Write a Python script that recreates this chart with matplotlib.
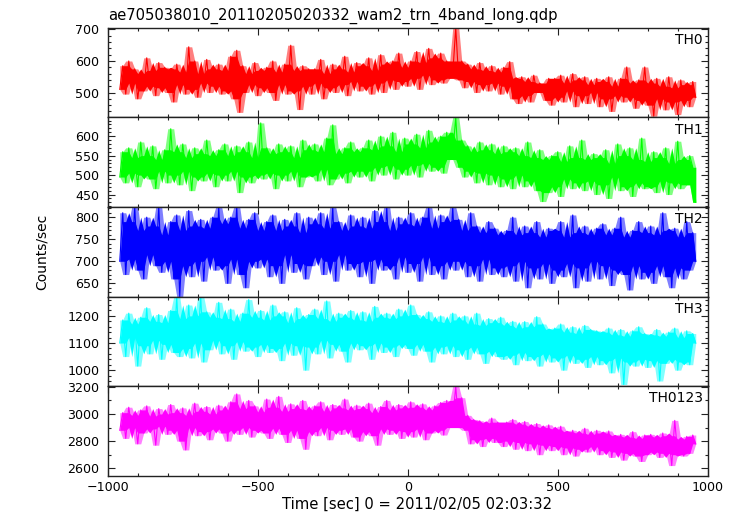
"""
WAM 4-band light curve (ae705038010, 2011/02/05 02:03:32), five stacked panels.
Output: out.png
"""
import matplotlib
matplotlib.use('Agg')
import matplotlib.pyplot as plt
from matplotlib.ticker import MultipleLocator
import numpy as np

plt.rcParams['font.family'] = ['DejaVu Sans']

# time bins [sec], 10 s apart
time = np.arange(-960, 961, 10)

# count rates (counts/sec), one row = 160 s
th0 = [
    510, 585, 495, 600, 530, 575, 480, 560, 505, 610, 520, 570, 490, 595, 515, 580,
    500, 575, 470, 590, 525, 565, 495, 645, 510, 600, 485, 560, 530, 605, 500, 575,
    520, 590, 495, 570, 505, 615, 480, 634, 437, 585, 500, 560, 525, 595, 490, 570,
    515, 580, 500, 600, 475, 565, 525, 590, 495, 650, 505, 570, 446, 585, 520, 575,
    495, 575, 530, 605, 480, 560, 515, 590, 500, 575, 525, 615, 490, 565, 535, 595,
    505, 585, 520, 610, 495, 570, 530, 620, 500, 590, 540, 600, 510, 625, 535, 580,
    520, 600, 545, 630, 510, 595, 555, 640, 525, 610, 540, 625, 530, 600, 545, 560,
    705, 540, 600, 515, 590, 535, 575, 500, 595, 525, 570, 505, 585, 530, 565, 495,
    580, 520, 598, 480, 545, 465, 550, 490, 535, 470, 555, 500, 530, 510, 475, 545,
    460, 545, 485, 555, 470, 530, 505, 560, 455, 540, 490, 550, 465, 525, 500, 545,
    455, 535, 480, 550, 440, 520, 490, 545, 470, 581, 485, 530, 450, 540, 475, 581,
    460, 530, 425, 545, 480, 520, 445, 550, 470, 515, 430, 540, 475, 525, 455, 535,
    485,
]
th1 = [
    495, 560, 480, 570, 505, 545, 470, 585, 500, 550, 490, 575, 465, 540, 510, 565,
    480, 619, 500, 560, 475, 580, 510, 545, 460, 570, 495, 555, 485, 590, 505, 550,
    470, 565, 500, 580, 485, 550, 510, 575, 455, 560, 495, 585, 480, 545, 500, 634,
    490, 570, 505, 555, 465, 580, 500, 560, 485, 575, 510, 545, 470, 590, 495, 565,
    500, 580, 485, 560, 515, 595, 475, 629, 490, 555, 505, 570, 480, 585, 510, 560,
    495, 570, 510, 590, 485, 565, 520, 600, 500, 575, 525, 610, 490, 560, 515, 595,
    500, 580, 525, 605, 495, 570, 530, 615, 510, 585, 520, 600, 505, 610, 540, 555,
    648, 520, 590, 495, 575, 510, 560, 480, 585, 505, 565, 475, 580, 500, 555, 470,
    575, 490, 560, 465, 570, 500, 550, 470, 585, 485, 545, 460, 565, 432, 540, 455,
    550, 470, 560, 445, 535, 490, 575, 465, 545, 480, 590, 460, 540, 485, 555, 450,
    545, 475, 565, 440, 530, 495, 580, 460, 550, 470, 570, 445, 540, 480, 595, 465,
    535, 470, 560, 455, 545, 485, 570, 450, 530, 480, 587, 465, 540, 475, 550, 520,
    430,
]
th2 = [
    700, 810, 670, 790, 705, 823, 680, 770, 660, 800, 715, 780, 690, 823, 675, 760,
    700, 790, 660, 805, 620, 770, 690, 815, 665, 780, 700, 795, 655, 775, 710, 800,
    680, 823, 690, 785, 650, 800, 705, 823, 670, 775, 640, 795, 700, 810, 685, 770,
    705, 790, 665, 805, 690, 770, 650, 795, 715, 780, 675, 810, 695, 765, 660, 800,
    690, 785, 710, 810, 670, 775, 700, 823, 655, 790, 715, 770, 680, 805, 695, 780,
    665, 800, 700, 775, 650, 815, 705, 790, 680, 823, 690, 770, 660, 800, 710, 785,
    675, 810, 695, 780, 655, 800, 710, 823, 670, 775, 690, 805, 660, 790, 700, 823,
    680, 795, 700, 770, 665, 810, 690, 780, 655, 765, 705, 790, 670, 775, 685, 760,
    665, 770, 690, 800, 655, 760, 700, 780, 640, 765, 685, 790, 660, 755, 695, 775,
    650, 770, 680, 790, 665, 755, 695, 805, 640, 765, 685, 780, 655, 760, 700, 775,
    660, 785, 690, 760, 645, 775, 680, 800, 670, 755, 635, 770, 690, 790, 660, 765,
    675, 780, 650, 760, 690, 810, 665, 770, 640, 775, 685, 755, 660, 790, 680, 765,
    700,
]
th3 = [
    1100, 1185, 1050, 1210, 1120, 1170, 1015, 1195, 1090, 1230, 1060, 1180, 1110, 1205, 1040, 1175,
    1095, 1220, 1065, 1271, 1050, 1190, 1080, 1240, 1045, 1200, 1100, 1271, 1030, 1215, 1075, 1195,
    1110, 1250, 1060, 1190, 1090, 1225, 1040, 1180, 1105, 1210, 1070, 1260, 1085, 1195, 1050, 1220,
    1095, 1185, 1065, 1240, 1080, 1200, 1035, 1215, 1100, 1175, 1055, 1230, 1090, 1190, 1000, 1205,
    1085, 1225, 1060, 1190, 1110, 1255, 1045, 1180, 1095, 1210, 1070, 1195, 1030, 1220, 1100, 1185,
    1075, 1215, 1090, 1180, 1040, 1235, 1100, 1195, 1065, 1210, 1085, 1190, 1050, 1225, 1095, 1200,
    1080, 1240, 1055, 1205, 1095, 1190, 1070, 1215, 1030, 1180, 1085, 1200, 1060, 1175, 1090, 1210,
    1050, 1185, 1075, 1200, 1040, 1170, 1085, 1210, 1060, 1165, 1025, 1190, 1070, 1175, 1050, 1195,
    1040, 1165, 1055, 1180, 1020, 1155, 1065, 1179, 1035, 1160, 1050, 1197, 1015, 1170, 1060, 1150,
    1030, 1155, 1045, 1170, 1000, 1140, 1055, 1160, 1025, 1135, 1040, 1165, 1010, 1150, 1050, 1145,
    1020, 1140, 1035, 1155, 990, 1130, 1045, 1150, 947, 1125, 1030, 1145, 1015, 1160, 1040, 1135,
    1010, 1130, 1035, 1150, 960, 1125, 1025, 1140, 1040, 1155, 1000, 1120, 1030, 1145, 1020, 1135,
    1100,
]
th0123 = [
    2880, 3010, 2820, 3050, 2900, 2990, 2780, 3030, 2860, 3060, 2890, 2985, 2770, 3040, 2910, 3000,
    2850, 3070, 2880, 3010, 2800, 3045, 2735, 2990, 2900, 3080, 2840, 3020, 2870, 3055, 2810, 3000,
    2890, 3065, 2860, 3030, 2800, 3090, 2880, 3148, 2850, 3040, 2900, 3100, 2830, 3060, 2880, 3015,
    2860, 3110, 2820, 3050, 2895, 3130, 2850, 3020, 2790, 3075, 2880, 3040, 2820, 3100, 2740, 3030,
    2870, 3060, 2840, 3090, 2900, 3020, 2810, 3070, 2880, 3045, 2850, 3110, 2890, 3030, 2830, 3065,
    2800, 3040, 2870, 3080, 2840, 3010, 2770, 3055, 2890, 3100, 2850, 3030, 2880, 3070, 2820, 3045,
    2870, 3090, 2830, 3050, 2890, 3075, 2810, 3030, 2860, 3060, 2880, 3085, 2845, 3100, 2900, 2960,
    3205, 2900, 3120, 2880, 2990, 2780, 2960, 2810, 2950, 2760, 2935, 2820, 2970, 2790, 2940, 2870,
    2760, 2940, 2800, 2960, 2740, 2925, 2790, 2945, 2730, 2910, 2780, 2930, 2700, 2900, 2770, 2920,
    2730, 2890, 2760, 2910, 2700, 2870, 2750, 2880, 2690, 2860, 2740, 2895, 2720, 2850, 2760, 2880,
    2700, 2860, 2730, 2875, 2680, 2840, 2720, 2850, 2660, 2830, 2710, 2870, 2690, 2820, 2650, 2845,
    2700, 2850, 2720, 2830, 2680, 2860, 2710, 2840, 2620, 2953, 2700, 2815, 2690, 2835, 2710, 2845,
    2780,
]

bands = ['TH0', 'TH1', 'TH2', 'TH3', 'TH0123']
series = [th0, th1, th2, th3, th0123]
colors = ['#ff0000', '#00ff00', '#0000ff', '#00ffff', '#ff00ff']
ylims = [(421, 705), (418, 648), (620, 823), (941, 1271), (2545, 3205)]
ymajor = [100, 50, 50, 100, 200]
yminor = [20, 10, 10, 20, 100]


def ranked_band(y, half, rank):
    """rank-th lowest / highest value in a sliding window of 2*half+1 bins."""
    y = np.asarray(y, float)
    p = np.concatenate([np.repeat(y[0], half), y, np.repeat(y[-1], half)])
    win = np.vstack([p[k:k + len(y)] for k in range(2 * half + 1)])
    s = np.sort(win, axis=0)
    return s[rank], s[-1 - rank]


fig = plt.figure(figsize=(7.38, 5.16), dpi=100)

left, right = 0.146, 0.959
top, bottom = 0.946, 0.078
ph = (top - bottom) / 5

axes = []
for i, (name, y, col) in enumerate(zip(bands, series, colors)):
    ax = fig.add_axes([left, top - (i + 1) * ph, right - left, ph])
    # light outer envelope, solid dense core, then the trace itself
    elo, ehi = ranked_band(y, 1, 0)
    ax.fill_between(time, elo, ehi, color=col, lw=0, alpha=0.5)
    clo, chi = ranked_band(y, 2, 1)
    ax.fill_between(time, clo, chi, color=col, lw=0)
    ax.plot(time, y, color=col, lw=0.8)
    ax.set_xlim(-1000, 1000)
    ax.set_ylim(*ylims[i])
    ax.xaxis.set_major_locator(MultipleLocator(500))
    ax.xaxis.set_minor_locator(MultipleLocator(100))
    ax.yaxis.set_major_locator(MultipleLocator(ymajor[i]))
    ax.yaxis.set_minor_locator(MultipleLocator(yminor[i]))
    ax.tick_params(which='both', direction='in', top=True, right=True,
                   labelsize=9.1, width=0.8, colors='#222222', labelcolor='black')
    ax.tick_params(which='major', length=5)
    ax.tick_params(which='minor', length=2.5)
    ax.tick_params(axis='y', pad=6)
    ax.tick_params(axis='x', pad=4)
    for s in ax.spines.values():
        s.set_linewidth(1.0)
        s.set_color('#222222')
    ax.text(0.992, 0.82, name, transform=ax.transAxes, ha='right', va='baseline', fontsize=10)
    if i < 4:
        ax.tick_params(labelbottom=False)
    axes.append(ax)

fig.text(0.565, 0.0136, 'Time [sec] 0 = 2011/02/05 02:03:32',
         ha='center', va='baseline', fontsize=10.6)
fig.text(0.057, (top + bottom) / 2, 'Counts/sec', rotation=90, ha='center', va='center', fontsize=10)
fig.text(left, 0.961, 'ae705038010_20110205020332_wam2_trn_4band_long.qdp',
         ha='left', va='baseline', fontsize=10.6)

plt.savefig('out.png', dpi=100, facecolor='white')
print("Saved out.png")
